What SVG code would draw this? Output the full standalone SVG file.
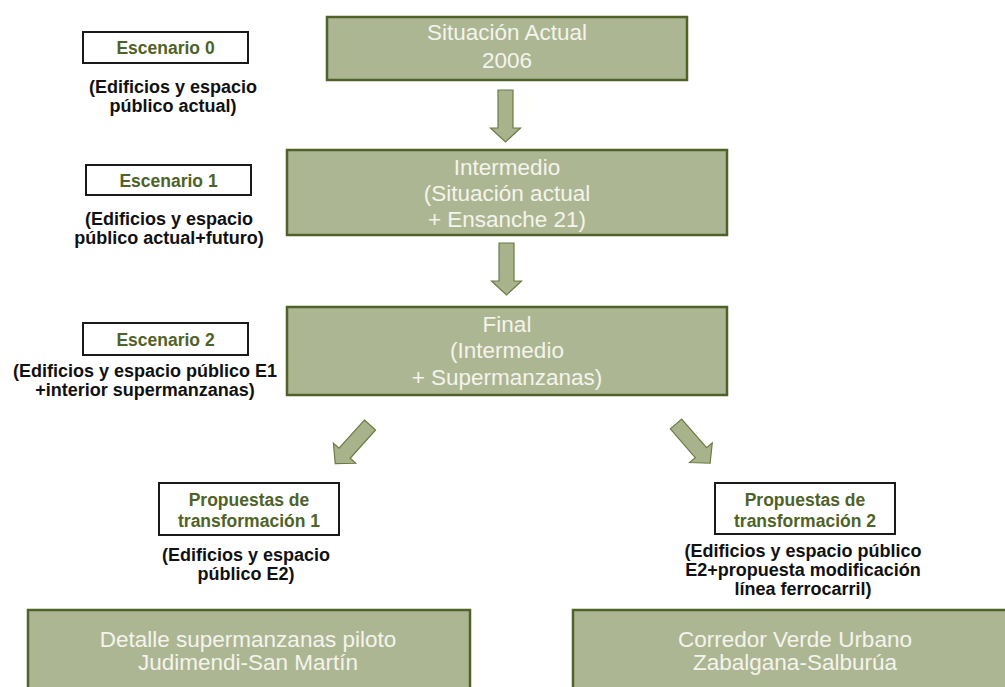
<svg xmlns="http://www.w3.org/2000/svg" width="1005" height="687" viewBox="0 0 1005 687">
<style>
.box{fill:#adb693;stroke:#4f6228;stroke-width:2.5}
.lbl{fill:#ffffff;stroke:#1a1a1a;stroke-width:2}
.bt{font-family:"Liberation Sans",Arial,sans-serif;font-size:22.5px;fill:#f4f4ec;text-anchor:middle}
.lt{font-family:"Liberation Sans",Arial,sans-serif;font-size:17.5px;font-weight:bold;fill:#4f6228;text-anchor:middle}
.st{font-family:"Liberation Sans",Arial,sans-serif;font-size:18px;font-weight:bold;fill:#111111;text-anchor:middle}
.arr{fill:#a9b38b;stroke:#6b7a45;stroke-width:1.2}
</style>
<defs>
<path id="blk" d="M-7.5,0 H7.5 V38 H15 L0,52 L-15,38 H-7.5 Z"/>
</defs>
<rect width="1005" height="687" fill="#ffffff"/>
<g id="connectors">
<use href="#blk" class="arr" transform="translate(505.5,90)"/>
<use href="#blk" class="arr" transform="translate(506.5,243)"/>
<use href="#blk" class="arr" transform="translate(370,425) rotate(42)"/>
<use href="#blk" class="arr" transform="translate(676,424) rotate(-41)"/>
</g>
<g id="situacion">
<rect class="box" x="327" y="17" width="360" height="63"/>
<text class="bt" x="507" y="40">Situación Actual</text>
<text class="bt" x="507" y="68">2006</text>
</g>
<g id="intermedio">
<rect class="box" x="287" y="150" width="440" height="85"/>
<text class="bt" x="507" y="175">Intermedio</text>
<text class="bt" x="507" y="201">(Situación actual</text>
<text class="bt" x="507" y="227">+ Ensanche 21)</text>
</g>
<g id="final">
<rect class="box" x="287" y="307" width="440" height="88"/>
<text class="bt" x="507" y="332">Final</text>
<text class="bt" x="507" y="358">(Intermedio</text>
<text class="bt" x="507" y="385">+ Supermanzanas)</text>
</g>
<g id="escenario0">
<rect class="lbl" x="83" y="32" width="165" height="31"/>
<text class="lt" x="165.5" y="54">Escenario 0</text>
<text class="st" x="173" y="93">(Edificios y espacio</text>
<text class="st" x="173" y="112">público actual)</text>
</g>
<g id="escenario1">
<rect class="lbl" x="86" y="165" width="165" height="30"/>
<text class="lt" x="168.5" y="187">Escenario 1</text>
<text class="st" x="169" y="225">(Edificios y espacio</text>
<text class="st" x="169" y="244">público actual+futuro)</text>
</g>
<g id="escenario2">
<rect class="lbl" x="83" y="323" width="165" height="32"/>
<text class="lt" x="165.5" y="346">Escenario 2</text>
<text class="st" x="145" y="377">(Edificios y espacio público E1</text>
<text class="st" x="145" y="396">+interior supermanzanas)</text>
</g>
<g id="propuestas1">
<rect class="lbl" x="159" y="483" width="180" height="52"/>
<text class="lt" x="249" y="506">Propuestas de</text>
<text class="lt" x="249" y="527">transformación 1</text>
<text class="st" x="246" y="561">(Edificios y espacio</text>
<text class="st" x="246" y="580">público E2)</text>
</g>
<g id="propuestas2">
<rect class="lbl" x="715" y="483" width="180" height="51"/>
<text class="lt" x="805" y="506">Propuestas de</text>
<text class="lt" x="805" y="527">transformación 2</text>
<text class="st" x="803" y="557">(Edificios y espacio público</text>
<text class="st" x="803" y="576">E2+propuesta modificación</text>
<text class="st" x="803" y="595">línea ferrocarril)</text>
</g>
<g id="detalle">
<rect class="box" x="28" y="610" width="442" height="90"/>
<text class="bt" x="248" y="647">Detalle supermanzanas piloto</text>
<text class="bt" x="248" y="670">Judimendi-San Martín</text>
</g>
<g id="corredor">
<rect class="box" x="573" y="610" width="450" height="90"/>
<text class="bt" x="795" y="647">Corredor Verde Urbano</text>
<text class="bt" x="795" y="670">Zabalgana-Salburúa</text>
</g>
</svg>
